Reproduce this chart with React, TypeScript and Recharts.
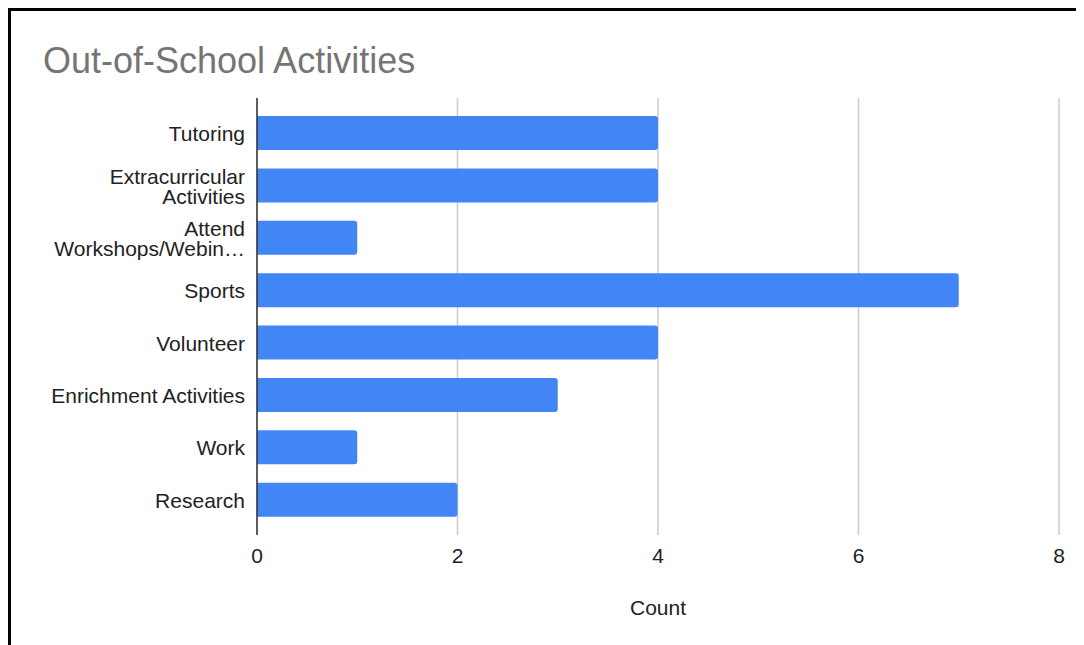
import { Bar, BarChart, CartesianGrid, XAxis, YAxis } from 'recharts';

const activities = [
    'Tutoring',
    'Extracurricular\nActivities',
    'Attend\nWorkshops/Webin…',
    'Sports',
    'Volunteer',
    'Enrichment Activities',
    'Work',
    'Research',
];
const counts = [4, 4, 1, 7, 4, 3, 1, 2];
const countTicks = [0, 2, 4, 6, 8];

const data = activities.map((name, i) => ({ name, count: counts[i] }));

function CategoryTick(props: any) {
    const { x, y, payload } = props;
    const lines = String(payload.value).split('\n');
    const lineHeight = 20;
    const startDy = -((lines.length - 1) * lineHeight) / 2;
    return (
        <text x={x} y={y} textAnchor="end" fill="#222" fontSize={21} dominantBaseline="central">
            {lines.map((line: string, i: number) => (
                <tspan key={i} x={x} dy={i === 0 ? startDy : lineHeight}>
                    {line}
                </tspan>
            ))}
        </text>
    );
}

function App() {
    return (
        <div
            style={{
                position: 'relative',
                width: 1073,
                height: 634,
                borderTop: '3px solid #000',
                borderLeft: '3px solid #000',
                fontFamily: '"Liberation Sans", Arial, sans-serif',
                background: '#fff',
            }}
        >
            <div
                style={{
                    position: 'absolute',
                    left: 32,
                    top: 32,
                    fontSize: 36,
                    lineHeight: '36px',
                    color: '#757575',
                    whiteSpace: 'nowrap',
                }}
            >
                Out-of-School Activities
            </div>
            <BarChart
                layout="vertical"
                width={1073}
                height={634}
                data={data}
                margin={{ top: 87, right: 25, bottom: 0, left: 0 }}
            >
                <CartesianGrid horizontal={false} stroke="#ccc" strokeWidth={1.5} />
                <XAxis
                    type="number"
                    domain={[0, 8]}
                    ticks={countTicks}
                    axisLine={false}
                    tickLine={false}
                    height={110}
                    tickMargin={7}
                    tick={{ fill: '#222', fontSize: 21 }}
                    label={{ value: 'Count', position: 'insideBottom', offset: 30, fill: '#222', fontSize: 21 }}
                />
                <YAxis
                    type="category"
                    dataKey="name"
                    width={246}
                    padding={{ top: 9, bottom: 9 }}
                    axisLine={{ stroke: '#333', strokeWidth: 1.5 }}
                    tickLine={false}
                    tickMargin={6}
                    tick={<CategoryTick />}
                    interval={0}
                />
                <Bar dataKey="count" fill="#4285F4" barSize={34} radius={[0, 3, 3, 0]} isAnimationActive={false} />
            </BarChart>
        </div>
    );
}

export default App;
